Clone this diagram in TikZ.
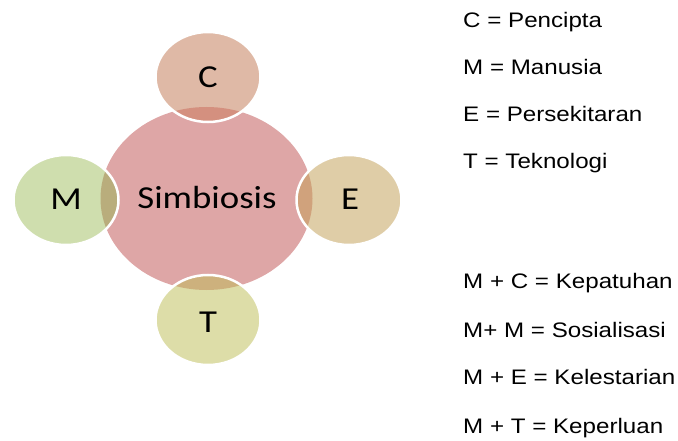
\documentclass[tikz,border=0pt]{standalone}
\usepackage{fontspec}
\setmainfont{Liberation Sans}
\newfontfamily\circfont{Carlito}
\usetikzlibrary{positioning}

% fill colours
\definecolor{hubfill}{HTML}{DEA6A6}
\definecolor{cfill}{HTML}{DFB9A6}
\definecolor{clens}{HTML}{D4907F}
\definecolor{mfill}{HTML}{CFDEAE}
\definecolor{mlens}{HTML}{B9AD7C}
\definecolor{efill}{HTML}{DFCDA7}
\definecolor{elens}{HTML}{D0A27C}
\definecolor{tfill}{HTML}{DDDDA8}
\definecolor{tlens}{HTML}{CDB17D}

\tikzset{
  circlabel/.style={font=\circfont\fontsize{32}{32}\selectfont, text=black, inner sep=0pt},
  legend/.style={font=\fontsize{21}{21}\selectfont, text=black, anchor=base west, inner sep=0pt},
  rim/.style={draw=white, line width=2.5pt},
}

% wide letters
\newcommand{\wide}[1]{\scalebox{1.15}[1]{#1}}

\begin{document}
\begin{tikzpicture}[x=1pt, y=-1pt]
  \useasboundingbox (0,0) rectangle (678,441);

  % centres of the shapes
  \coordinate (hub) at (206.5,198.5);
  \coordinate (cc) at (208,77);
  \coordinate (mc) at (66,200);
  \coordinate (ec) at (349,200);
  \coordinate (tc) at (208,320);

  % central circle
  \fill[hubfill] (hub) ellipse [x radius=106, y radius=91.5];

  % outer circles, their overlaps with the centre, and white rims
  \foreach \p/\f/\l in {cc/cfill/clens, mc/mfill/mlens, ec/efill/elens, tc/tfill/tlens}{
    \fill[\f] (\p) ellipse [x radius=52.5, y radius=45];
    \begin{scope}
      \clip (hub) ellipse [x radius=106, y radius=91.5];
      \fill[\l] (\p) ellipse [x radius=52.5, y radius=45];
    \end{scope}
    \draw[rim] (\p) ellipse [x radius=52.5, y radius=45];
  }

  % labels in the circles
  \node[circlabel] (simb) at (207,198) {\wide{Simbiosis}};
  \node[circlabel] (lc) at (208,77) {\wide{C}};
  \node[circlabel] (lm) at (66,199) {\wide{M}};
  \node[circlabel] (le) at (350,199) {\wide{E}};
  \node[circlabel] (lt) at (208,322) {\wide{T}};

  % key
  \node[legend] (k1) at (463,27.5) {\wide{C = Pencipta}};
  \node[legend] (k2) at (463,74.5) {\wide{M = Manusia}};
  \node[legend] (k3) at (463,122) {\wide{E = Persekitaran}};
  \node[legend] (k4) at (463,168.5) {\wide{T = Teknologi}};

  \node[legend] (r1) at (463,288) {\wide{M + C = Kepatuhan}};
  \node[legend] (r2) at (463,337) {\wide{M+ M = Sosialisasi}};
  \node[legend] (r3) at (463,384.5) {\wide{M + E = Kelestarian}};
  \node[legend] (r4) at (463,433) {\wide{M + T = Keperluan}};
\end{tikzpicture}
\end{document}
